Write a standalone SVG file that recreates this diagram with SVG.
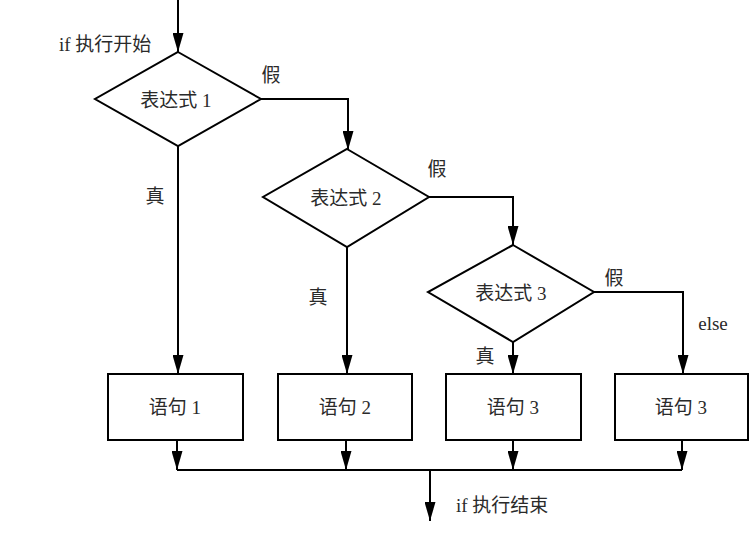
<svg xmlns="http://www.w3.org/2000/svg" width="755" height="534" viewBox="0 0 755 534">
<defs>
<marker id="ah" markerUnits="userSpaceOnUse" markerWidth="19" markerHeight="11" refX="19" refY="5.5" orient="auto">
<path d="M0,0 L19,5.5 L0,11 z" fill="#000"/>
</marker>
<style>
.sh{fill:#fff;stroke:#000;stroke-width:2}
.ln{fill:none;stroke:#000;stroke-width:2;marker-end:url(#ah)}
.ln2{fill:none;stroke:#000;stroke-width:2}
text{font-family:"Liberation Serif","Noto Sans CJK SC",serif;fill:#2a2a2a;font-size:19px}
.c{text-anchor:middle}
</style>
</defs>
<rect width="755" height="534" fill="#fff"/>
<g id="connectors">
<path class="ln" d="M178,0 V52"/>
<path class="ln" d="M261,99 H348 V150"/>
<path class="ln" d="M429,197 H513 V245"/>
<path class="ln" d="M594,292 H683 V374"/>
<path class="ln" d="M178,146 V374"/>
<path class="ln" d="M347,247 V374"/>
<path class="ln" d="M513,342 V374"/>
<path class="ln" d="M177,440 V470"/>
<path class="ln" d="M346,440 V470"/>
<path class="ln" d="M513,440 V470"/>
<path class="ln" d="M682,440 V470"/>
<path class="ln2" d="M177,470 H682"/>
<path class="ln" d="M430,470 V521"/>
<text x="59" y="51" font-size="20">if 执行开始</text>
<text x="271" y="82" class="c">假</text>
<text x="155" y="203" class="c">真</text>
<text x="437" y="176" class="c">假</text>
<text x="318" y="304" class="c">真</text>
<text x="614" y="285" class="c">假</text>
<text x="485" y="363" class="c">真</text>
<text x="713" y="330" class="c">else</text>
<text x="456" y="512">if 执行结束</text>
</g>
<g id="d1"><polygon class="sh" points="178,52 261,99 178,146 95,99"/><text x="176" y="107" class="c">表达式 1</text></g>
<g id="d2"><polygon class="sh" points="347,149 429,197 347,247 263,197"/><text x="346" y="205" class="c">表达式 2</text></g>
<g id="d3"><polygon class="sh" points="513,245 594,292 513,342 428,292"/><text x="511" y="300" class="c">表达式 3</text></g>
<g id="b1"><rect class="sh" x="108" y="374" width="135" height="66"/><text x="175" y="414" class="c">语句 1</text></g>
<g id="b2"><rect class="sh" x="278" y="374" width="134" height="66"/><text x="345" y="414" class="c">语句 2</text></g>
<g id="b3"><rect class="sh" x="446" y="374" width="135" height="66"/><text x="513" y="414" class="c">语句 3</text></g>
<g id="b4"><rect class="sh" x="615" y="374" width="133" height="66"/><text x="681" y="414" class="c">语句 3</text></g>
</svg>
